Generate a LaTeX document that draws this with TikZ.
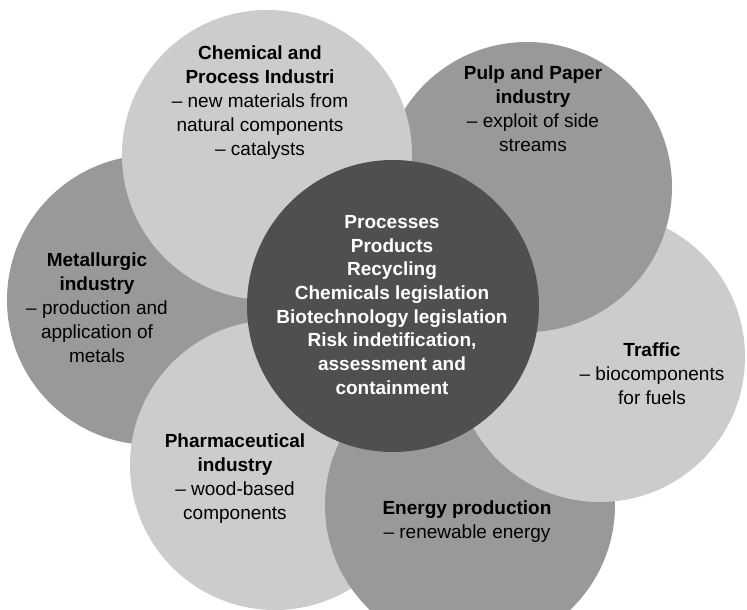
\documentclass[tikz,border=0pt]{standalone}
\usepackage{fontspec}
\setmainfont{Liberation Sans}
\usetikzlibrary{positioning}
\definecolor{ringlight}{gray}{0.8}
\definecolor{ringmid}{gray}{0.6}
\definecolor{ringdark}{gray}{0.31}

\begin{document}
\begin{tikzpicture}[x=1pt, y=-1pt]
    \useasboundingbox (0,0) rectangle (747,610);
    \clip (0,0) rectangle (747,610);
    \begin{scope}[every node/.style = {font=\fontsize{19}{24}\selectfont, align=center}]
        \tikzset{ring/.style = {circle, minimum size=290pt, inner sep=0pt}}
        % outer circles, drawn from bottom layer to top layer
        \foreach \n/\x/\y/\c in {met/152/300/ringmid, pha/275/465/ringlight,
                                 ene/470/505/ringmid, tra/600/357/ringlight,
                                 pul/527/187/ringmid, che/267/155/ringlight}{
            \node[ring, fill=\c] (C\n) at (\x,\y) {};
        }
        \node[ring, fill=ringdark, minimum size=292pt] (Ccen) at (393,306) {};
        \node (Tche) at (260,103) {\textbf{Chemical and}\\\textbf{Process Industri}\\-- new materials from\\natural components\\-- catalysts};
        \node (Tpul) at (533,109) {\textbf{Pulp and Paper}\\\textbf{industry}\\-- exploit of side\\streams};
        \node (Tmet) at (97,308) {\textbf{Metallurgic}\\\textbf{industry}\\-- production and\\application of\\metals};
        \node (Ttra) at (652,374) {\textbf{Traffic}\\-- biocomponents\\for fuels};
        \node (Tpha) at (235,479) {\textbf{Pharmaceutical}\\\textbf{industry}\\-- wood-based\\components};
        \node (Tene) at (467,522) {\textbf{Energy production}\\-- renewable energy};
        \node[text=white, font=\fontsize{19}{23.7}\selectfont\bfseries] (Tcen) at (392,305)
            {Processes\\Products\\Recycling\\Chemicals legislation\\Biotechnology legislation\\Risk indetification,\\assessment and\\containment};
    \end{scope}
\end{tikzpicture}
\end{document}
